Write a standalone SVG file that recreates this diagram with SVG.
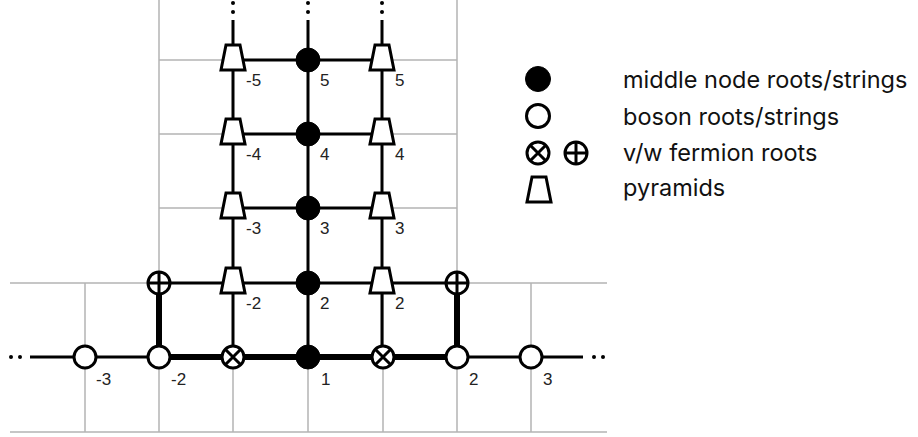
<svg xmlns="http://www.w3.org/2000/svg" width="918" height="437" viewBox="0 0 918 437">
<style>
.grid{stroke:#b4b4b4;stroke-width:1.5;fill:none}
.thin{stroke:#000;stroke-width:3;fill:none}
.thick{stroke:#000;stroke-width:6;fill:none}
.dot{fill:#000}
.mid{fill:#000;stroke:#000;stroke-width:1}
.bos{fill:#fff;stroke:#000;stroke-width:3}
.pyr{fill:#fff;stroke:#000;stroke-width:3;stroke-linejoin:miter}
.lbl{font-family:"Liberation Sans",Arial,sans-serif;font-size:17px;fill:#222}
.leg{font-family:Inter,Lato,sans-serif;font-size:23.5px;fill:#111}
</style>
<defs>
<g id="pyrShape"><path class="pyr" d="M-7,-15 L7,-15 L12,10 L-12,10 Z"/></g>
<g id="otimes"><circle class="bos" r="11"/><path class="thin" d="M-7.5,-7.5 L7.5,7.5 M7.5,-7.5 L-7.5,7.5"/></g>
<g id="oplus"><circle class="bos" r="11"/><path class="thin" d="M-11,0 L11,0 M0,-11 L0,11"/></g>
</defs>
<g id="grid">
<path class="grid" d="M159,0 V432 M457,0 V432 M85,283 V432 M233,283 V432 M308,283 V432 M383,283 V432 M531,283 V432 M159,60 H457 M159,134 H457 M159,208 H457 M10,283 H607 M10,432 H607"/>
</g>
<g id="connectors">
<path class="thin" d="M233,20 V357 M308,20 V357 M382,20 V357 M233,60 H382 M233,134 H382 M233,208 H382 M159,283 H457 M30,357 H159 M457,357 H583"/>
<path class="thick" d="M159,357 H457 M159,283 V357 M457,283 V357"/>
<circle class="dot" cx="233" cy="3" r="2"/><circle class="dot" cx="233" cy="12" r="2"/>
<circle class="dot" cx="308" cy="3" r="2"/><circle class="dot" cx="308" cy="12" r="2"/>
<circle class="dot" cx="382" cy="3" r="2"/><circle class="dot" cx="382" cy="12" r="2"/>
<circle class="dot" cx="11" cy="357" r="2"/><circle class="dot" cx="20" cy="357" r="2"/>
<circle class="dot" cx="594" cy="357" r="2"/><circle class="dot" cx="603" cy="357" r="2"/>
</g>
<g id="n-m5"><circle class="mid" cx="308" cy="60" r="12"/><text class="lbl" x="320" y="86">5</text></g>
<g id="n-m4"><circle class="mid" cx="308" cy="134" r="12"/><text class="lbl" x="320" y="160">4</text></g>
<g id="n-m3"><circle class="mid" cx="308" cy="208" r="12"/><text class="lbl" x="320" y="234">3</text></g>
<g id="n-m2"><circle class="mid" cx="308" cy="283" r="12"/><text class="lbl" x="320" y="309">2</text></g>
<g id="n-m1"><circle class="mid" cx="308" cy="357" r="12"/><text class="lbl" x="321" y="385">1</text></g>
<g id="n-pl5"><use href="#pyrShape" x="233" y="60"/><text class="lbl" x="246" y="86">-5</text></g>
<g id="n-pl4"><use href="#pyrShape" x="233" y="134"/><text class="lbl" x="246" y="160">-4</text></g>
<g id="n-pl3"><use href="#pyrShape" x="233" y="208"/><text class="lbl" x="246" y="234">-3</text></g>
<g id="n-pl2"><use href="#pyrShape" x="233" y="283"/><text class="lbl" x="246" y="309">-2</text></g>
<g id="n-pr5"><use href="#pyrShape" x="382" y="60"/><text class="lbl" x="395" y="86">5</text></g>
<g id="n-pr4"><use href="#pyrShape" x="382" y="134"/><text class="lbl" x="395" y="160">4</text></g>
<g id="n-pr3"><use href="#pyrShape" x="382" y="208"/><text class="lbl" x="395" y="234">3</text></g>
<g id="n-pr2"><use href="#pyrShape" x="382" y="283"/><text class="lbl" x="395" y="309">2</text></g>
<g id="n-fpl"><use href="#oplus" x="159" y="283"/></g>
<g id="n-fpr"><use href="#oplus" x="457" y="283"/></g>
<g id="n-fxl"><use href="#otimes" x="233" y="357"/></g>
<g id="n-fxr"><use href="#otimes" x="383" y="357"/></g>
<g id="n-bm3"><circle class="bos" cx="85" cy="357" r="11"/><text class="lbl" x="96" y="385">-3</text></g>
<g id="n-bm2"><circle class="bos" cx="159" cy="357" r="11"/><text class="lbl" x="171" y="385">-2</text></g>
<g id="n-b2"><circle class="bos" cx="457" cy="357" r="11"/><text class="lbl" x="469" y="385">2</text></g>
<g id="n-b3"><circle class="bos" cx="531" cy="357" r="11"/><text class="lbl" x="543" y="385">3</text></g>
<g id="legend">
<circle class="mid" cx="538" cy="79" r="12.5"/>
<circle class="bos" cx="538" cy="116" r="11.5"/>
<use href="#otimes" x="538" y="153"/>
<use href="#oplus" x="576" y="153"/>
<path class="pyr" d="M532,177 L546,177 L551,202 L527,202 Z"/>
<text class="leg" x="623" y="88">middle node roots/strings</text>
<text class="leg" x="623" y="125">boson roots/strings</text>
<text class="leg" x="623" y="161">v/w fermion roots</text>
<text class="leg" x="623" y="196">pyramids</text>
</g>
</svg>
